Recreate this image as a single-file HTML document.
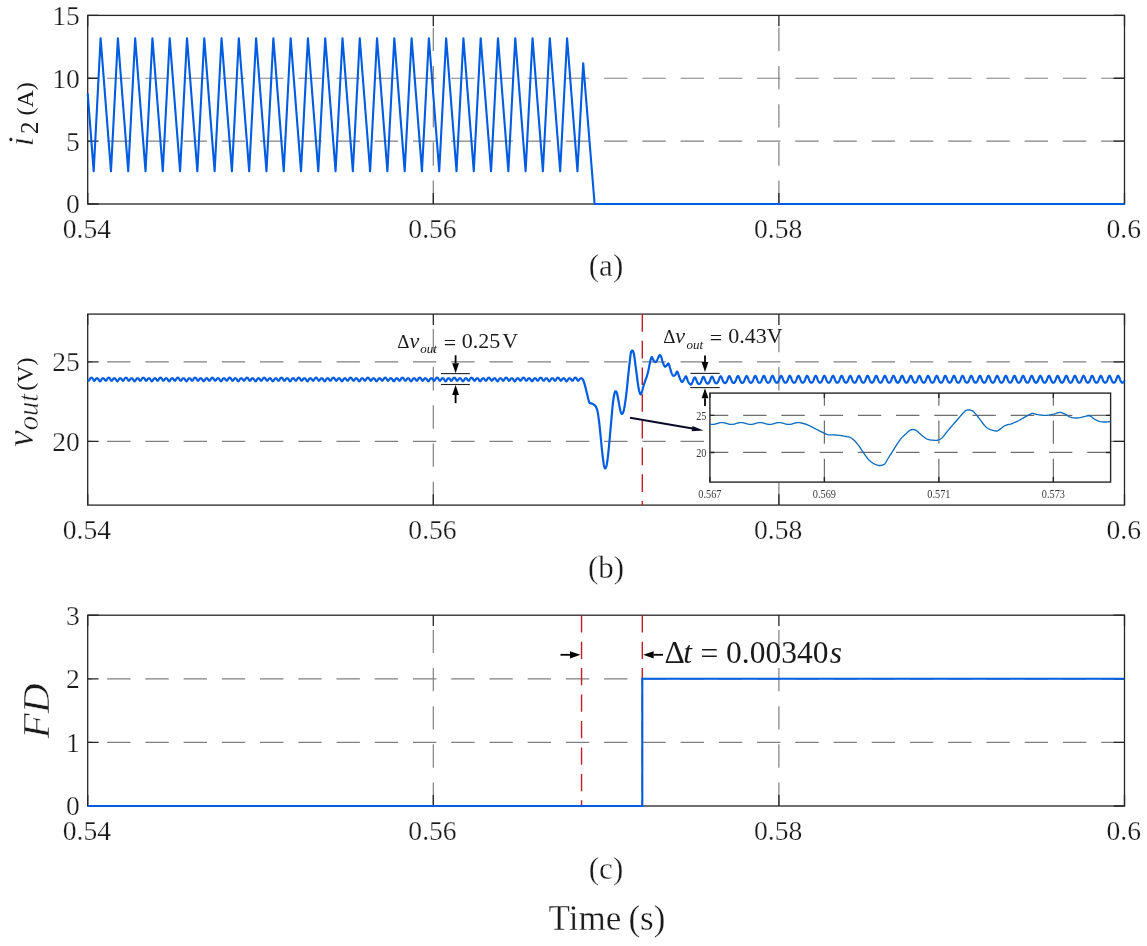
<!DOCTYPE html>
<html><head><meta charset="utf-8"><style>
html,body{margin:0;padding:0;background:#fff;width:1147px;height:946px;overflow:hidden}
svg{display:block;will-change:transform}
text{font-family:"Liberation Serif",serif;fill:#1a1a1a}
.tk{stroke:#fff;stroke-width:0.25px}
.cp{stroke:#fff;stroke-width:0.3px}
.yl{stroke:#fff;stroke-width:0.5px}
tspan[stroke=none]{stroke:none}
.il{fill:#3a3a3a}
</style></head><body>
<svg width="1147" height="946" viewBox="0 0 1147 946" font-family='"Liberation Serif", serif' fill="#000">
<rect width="1147" height="946" fill="#fff"/>
<line x1="1124.5" y1="141.13" x2="87.7" y2="141.13" stroke="#808080" stroke-width="1.2" stroke-dasharray="23.4 14.83"/>
<line x1="1124.5" y1="78.27" x2="87.7" y2="78.27" stroke="#808080" stroke-width="1.2" stroke-dasharray="23.4 14.83"/>
<line x1="433.3" y1="204" x2="433.3" y2="15.4" stroke="#808080" stroke-width="1.2" stroke-dasharray="23.4 14.83"/>
<line x1="778.9" y1="204" x2="778.9" y2="15.4" stroke="#808080" stroke-width="1.2" stroke-dasharray="23.4 14.83"/>
<rect x="87.7" y="15.4" width="1036.8" height="188.6" fill="none" stroke="#262626" stroke-width="1.3"/>
<path d="M87.7 204H98.6M1124.5 204H1113.6M87.7 141.13H98.6M1124.5 141.13H1113.6M87.7 78.27H98.6M1124.5 78.27H1113.6M87.7 15.4H98.6M1124.5 15.4H1113.6M87.7 204V193.1M87.7 15.4V26.3M433.3 204V193.1M433.3 15.4V26.3M778.9 204V193.1M778.9 15.4V26.3M1124.5 204V193.1M1124.5 15.4V26.3" stroke="#262626" stroke-width="1.3" fill="none"/>
<path d="M87.7 93.35 L93.7 171.31 L100.6 38.2 L110.98 171.31 L117.88 38.2 L128.25 171.31 L135.15 38.2 L145.53 171.31 L152.43 38.2 L162.81 171.31 L169.71 38.2 L180.09 171.31 L186.99 38.2 L197.36 171.31 L204.26 38.2 L214.64 171.31 L221.54 38.2 L231.92 171.31 L238.82 38.2 L249.19 171.31 L256.09 38.2 L266.47 171.31 L273.37 38.2 L283.75 171.31 L290.65 38.2 L301.02 171.31 L307.92 38.2 L318.3 171.31 L325.2 38.2 L335.58 171.31 L342.48 38.2 L352.86 171.31 L359.75 38.2 L370.13 171.31 L377.03 38.2 L387.41 171.31 L394.31 38.2 L404.69 171.31 L411.59 38.2 L421.96 171.31 L428.86 38.2 L439.24 171.31 L446.14 38.2 L456.52 171.31 L463.42 38.2 L473.79 171.31 L480.69 38.2 L491.07 171.31 L497.97 38.2 L508.35 171.31 L515.25 38.2 L525.62 171.31 L532.52 38.2 L542.9 171.31 L549.8 38.2 L560.18 171.31 L567.08 38.2 L577.46 171.31 L583.2 63.2 L594.6 204 L1124.5 204" fill="none" stroke="#005ce0" stroke-width="2.1" stroke-linejoin="round"/>
<text class="tk" x="79.9" y="213.4" text-anchor="end" font-size="27.6">0</text>
<text class="tk" x="79.9" y="150.53" text-anchor="end" font-size="27.6">5</text>
<text class="tk" x="79.9" y="87.67" text-anchor="end" font-size="27.6">10</text>
<text class="tk" x="79.9" y="24.8" text-anchor="end" font-size="27.6">15</text>
<text class="tk" x="86.9" y="237.6" text-anchor="middle" font-size="27.6">0.54</text>
<text class="tk" x="432.5" y="237.6" text-anchor="middle" font-size="27.6">0.56</text>
<text class="tk" x="778.1" y="237.6" text-anchor="middle" font-size="27.6">0.58</text>
<text class="tk" x="1123.7" y="237.6" text-anchor="middle" font-size="27.6">0.6</text>
<line x1="1124.5" y1="441.43" x2="87.7" y2="441.43" stroke="#808080" stroke-width="1.2" stroke-dasharray="23.4 14.83"/>
<line x1="1124.5" y1="361.85" x2="87.7" y2="361.85" stroke="#808080" stroke-width="1.2" stroke-dasharray="23.4 14.83"/>
<line x1="433.3" y1="505.1" x2="433.3" y2="314.1" stroke="#808080" stroke-width="1.2" stroke-dasharray="23.4 14.83"/>
<line x1="778.9" y1="505.1" x2="778.9" y2="314.1" stroke="#808080" stroke-width="1.2" stroke-dasharray="23.4 14.83"/>
<rect x="87.7" y="314.1" width="1036.8" height="191" fill="none" stroke="#262626" stroke-width="1.3"/>
<path d="M87.7 441.43H98.6M1124.5 441.43H1113.6M87.7 361.85H98.6M1124.5 361.85H1113.6M87.7 505.1V494.2M87.7 314.1V325M433.3 505.1V494.2M433.3 314.1V325M778.9 505.1V494.2M778.9 314.1V325M1124.5 505.1V494.2M1124.5 314.1V325" stroke="#262626" stroke-width="1.3" fill="none"/>
<line x1="642.3" y1="314.1" x2="642.3" y2="505.1" stroke="#c41e24" stroke-width="1.4" stroke-dasharray="17.6 9.1"/>
<path d="M87.7 380.15 L88.05 380.57 L88.4 380.77 L88.75 380.69 L89.1 380.33 L89.45 379.78 L89.8 379.17 L90.15 378.6 L90.5 378.16 L90.85 377.86 L91.2 377.72 L91.55 377.71 L91.9 377.84 L92.25 378.1 L92.6 378.53 L92.95 379.08 L93.3 379.7 L93.65 380.26 L94 380.65 L94.35 380.78 L94.7 380.61 L95.05 380.22 L95.4 379.69 L95.75 379.16 L96.1 378.71 L96.45 378.41 L96.8 378.25 L97.15 378.22 L97.5 378.32 L97.85 378.55 L98.2 378.92 L98.55 379.42 L98.9 380.02 L99.25 380.61 L99.6 381.07 L99.95 381.29 L100.3 381.22 L100.65 380.87 L101 380.33 L101.35 379.72 L101.7 379.16 L102.05 378.72 L102.4 378.42 L102.75 378.26 L103.1 378.22 L103.45 378.31 L103.8 378.54 L104.15 378.91 L104.5 379.41 L104.85 379.95 L105.2 380.43 L105.55 380.73 L105.9 380.75 L106.25 380.49 L106.6 380 L106.95 379.4 L107.3 378.8 L107.65 378.3 L108 377.95 L108.35 377.76 L108.7 377.7 L109.05 377.77 L109.4 377.99 L109.75 378.35 L110.1 378.86 L110.45 379.47 L110.8 380.07 L111.15 380.53 L111.5 380.76 L111.85 380.71 L112.2 380.39 L112.55 379.89 L112.9 379.35 L113.25 378.86 L113.6 378.5 L113.95 378.29 L114.3 378.22 L114.65 378.27 L115 378.45 L115.35 378.76 L115.7 379.22 L116.05 379.79 L116.4 380.4 L116.75 380.92 L117.1 381.24 L117.45 381.28 L117.8 381.03 L118.15 380.54 L118.5 379.95 L118.85 379.36 L119.2 378.87 L119.55 378.51 L119.9 378.3 L120.25 378.22 L120.6 378.26 L120.95 378.44 L121.3 378.76 L121.65 379.21 L122 379.75 L122.35 380.27 L122.7 380.65 L123.05 380.78 L123.4 380.62 L123.75 380.2 L124.1 379.63 L124.45 379.01 L124.8 378.47 L125.15 378.07 L125.5 377.81 L125.85 377.71 L126.2 377.73 L126.55 377.89 L126.9 378.2 L127.25 378.66 L127.6 379.24 L127.95 379.85 L128.3 380.38 L128.65 380.71 L129 380.76 L129.35 380.53 L129.7 380.09 L130.05 379.55 L130.4 379.03 L130.75 378.62 L131.1 378.35 L131.45 378.23 L131.8 378.24 L132.15 378.37 L132.5 378.63 L132.85 379.03 L133.2 379.57 L133.55 380.17 L133.9 380.74 L134.25 381.15 L134.6 381.3 L134.95 381.15 L135.3 380.74 L135.65 380.17 L136 379.57 L136.35 379.03 L136.7 378.63 L137.05 378.37 L137.4 378.24 L137.75 378.23 L138.1 378.35 L138.45 378.62 L138.8 379.03 L139.15 379.55 L139.5 380.09 L139.85 380.53 L140.2 380.76 L140.55 380.71 L140.9 380.38 L141.25 379.85 L141.6 379.24 L141.95 378.66 L142.3 378.2 L142.65 377.89 L143 377.73 L143.35 377.71 L143.7 377.81 L144.05 378.07 L144.4 378.47 L144.75 379.01 L145.1 379.63 L145.45 380.2 L145.8 380.62 L146.15 380.78 L146.5 380.65 L146.85 380.27 L147.2 379.75 L147.55 379.21 L147.9 378.76 L148.25 378.44 L148.6 378.26 L148.95 378.22 L149.3 378.3 L149.65 378.51 L150 378.87 L150.35 379.36 L150.7 379.95 L151.05 380.54 L151.4 381.03 L151.75 381.28 L152.1 381.24 L152.45 380.92 L152.8 380.4 L153.15 379.79 L153.5 379.22 L153.85 378.76 L154.2 378.45 L154.55 378.27 L154.9 378.22 L155.25 378.29 L155.6 378.5 L155.95 378.86 L156.3 379.35 L156.65 379.89 L157 380.39 L157.35 380.71 L157.7 380.76 L158.05 380.53 L158.4 380.07 L158.75 379.47 L159.1 378.86 L159.45 378.35 L159.8 377.99 L160.15 377.77 L160.5 377.7 L160.85 377.76 L161.2 377.95 L161.55 378.3 L161.9 378.8 L162.25 379.4 L162.6 380 L162.95 380.49 L163.3 380.75 L163.65 380.73 L164 380.43 L164.35 379.95 L164.7 379.41 L165.05 378.91 L165.4 378.54 L165.75 378.31 L166.1 378.22 L166.45 378.26 L166.8 378.42 L167.15 378.72 L167.5 379.16 L167.85 379.72 L168.2 380.33 L168.55 380.87 L168.9 381.22 L169.25 381.29 L169.6 381.07 L169.95 380.61 L170.3 380.02 L170.65 379.42 L171 378.92 L171.35 378.55 L171.7 378.32 L172.05 378.22 L172.4 378.25 L172.75 378.41 L173.1 378.71 L173.45 379.16 L173.8 379.69 L174.15 380.22 L174.5 380.61 L174.85 380.78 L175.2 380.65 L175.55 380.26 L175.9 379.7 L176.25 379.08 L176.6 378.53 L176.95 378.1 L177.3 377.84 L177.65 377.71 L178 377.72 L178.35 377.86 L178.7 378.16 L179.05 378.6 L179.4 379.17 L179.75 379.78 L180.1 380.33 L180.45 380.69 L180.8 380.77 L181.15 380.57 L181.5 380.15 L181.85 379.61 L182.2 379.09 L182.55 378.66 L182.9 378.38 L183.25 378.24 L183.6 378.23 L183.95 378.34 L184.3 378.59 L184.65 378.98 L185 379.5 L185.35 380.1 L185.7 380.68 L186.05 381.12 L186.4 381.3 L186.75 381.18 L187.1 380.8 L187.45 380.24 L187.8 379.64 L188.15 379.09 L188.5 378.67 L188.85 378.39 L189.2 378.25 L189.55 378.23 L189.9 378.33 L190.25 378.58 L190.6 378.98 L190.95 379.49 L191.3 380.03 L191.65 380.49 L192 380.75 L192.35 380.73 L192.7 380.43 L193.05 379.92 L193.4 379.31 L193.75 378.72 L194.1 378.24 L194.45 377.92 L194.8 377.74 L195.15 377.7 L195.5 377.79 L195.85 378.03 L196.2 378.42 L196.55 378.95 L196.9 379.56 L197.25 380.14 L197.6 380.58 L197.95 380.77 L198.3 380.68 L198.65 380.32 L199 379.82 L199.35 379.27 L199.7 378.8 L200.05 378.47 L200.4 378.27 L200.75 378.22 L201.1 378.29 L201.45 378.48 L201.8 378.82 L202.15 379.3 L202.5 379.88 L202.85 380.48 L203.2 380.98 L203.55 381.26 L203.9 381.26 L204.25 380.97 L204.6 380.46 L204.95 379.86 L205.3 379.28 L205.65 378.81 L206 378.47 L206.35 378.28 L206.7 378.22 L207.05 378.28 L207.4 378.47 L207.75 378.81 L208.1 379.29 L208.45 379.83 L208.8 380.34 L209.15 380.68 L209.5 380.77 L209.85 380.57 L210.2 380.13 L210.55 379.54 L210.9 378.93 L211.25 378.4 L211.6 378.02 L211.95 377.79 L212.3 377.7 L212.65 377.74 L213 377.92 L213.35 378.26 L213.7 378.74 L214.05 379.33 L214.4 379.94 L214.75 380.44 L215.1 380.74 L215.45 380.75 L215.8 380.48 L216.15 380.01 L216.5 379.47 L216.85 378.96 L217.2 378.57 L217.55 378.33 L217.9 378.22 L218.25 378.25 L218.6 378.39 L218.95 378.68 L219.3 379.1 L219.65 379.65 L220 380.26 L220.35 380.81 L220.7 381.19 L221.05 381.3 L221.4 381.11 L221.75 380.67 L222.1 380.09 L222.45 379.49 L222.8 378.97 L223.15 378.58 L223.5 378.34 L223.85 378.23 L224.2 378.24 L224.55 378.38 L224.9 378.67 L225.25 379.1 L225.6 379.63 L225.95 380.16 L226.3 380.58 L226.65 380.77 L227 380.68 L227.35 380.32 L227.7 379.77 L228.05 379.15 L228.4 378.59 L228.75 378.15 L229.1 377.86 L229.45 377.72 L229.8 377.71 L230.15 377.84 L230.5 378.11 L230.85 378.54 L231.2 379.1 L231.55 379.71 L231.9 380.27 L232.25 380.66 L232.6 380.78 L232.95 380.61 L233.3 380.2 L233.65 379.67 L234 379.14 L234.35 378.7 L234.7 378.4 L235.05 378.25 L235.4 378.22 L235.75 378.32 L236.1 378.55 L236.45 378.93 L236.8 379.44 L237.15 380.03 L237.5 380.62 L237.85 381.08 L238.2 381.29 L238.55 381.21 L238.9 380.85 L239.25 380.31 L239.6 379.7 L239.95 379.15 L240.3 378.71 L240.65 378.41 L241 378.26 L241.35 378.22 L241.7 378.31 L242.05 378.55 L242.4 378.93 L242.75 379.43 L243.1 379.97 L243.45 380.45 L243.8 380.73 L244.15 380.75 L244.5 380.48 L244.85 379.99 L245.2 379.38 L245.55 378.78 L245.9 378.29 L246.25 377.95 L246.6 377.75 L246.95 377.7 L247.3 377.78 L247.65 377.99 L248 378.37 L248.35 378.88 L248.7 379.49 L249.05 380.08 L249.4 380.54 L249.75 380.77 L250.1 380.7 L250.45 380.37 L250.8 379.88 L251.15 379.33 L251.5 378.85 L251.85 378.5 L252.2 378.29 L252.55 378.22 L252.9 378.27 L253.25 378.45 L253.6 378.77 L253.95 379.23 L254.3 379.81 L254.65 380.41 L255 380.93 L255.35 381.25 L255.7 381.28 L256.05 381.01 L256.4 380.53 L256.75 379.93 L257.1 379.34 L257.45 378.85 L257.8 378.51 L258.15 378.3 L258.5 378.22 L258.85 378.26 L259.2 378.44 L259.55 378.77 L259.9 379.23 L260.25 379.77 L260.6 380.28 L260.95 380.65 L261.3 380.78 L261.65 380.61 L262 380.19 L262.35 379.61 L262.7 379 L263.05 378.46 L263.4 378.06 L263.75 377.81 L264.1 377.71 L264.45 377.73 L264.8 377.9 L265.15 378.21 L265.5 378.67 L265.85 379.26 L266.2 379.87 L266.55 380.39 L266.9 380.72 L267.25 380.76 L267.6 380.52 L267.95 380.07 L268.3 379.53 L268.65 379.02 L269 378.61 L269.35 378.35 L269.7 378.23 L270.05 378.24 L270.4 378.37 L270.75 378.64 L271.1 379.05 L271.45 379.59 L271.8 380.19 L272.15 380.76 L272.5 381.16 L272.85 381.3 L273.2 381.14 L273.55 380.73 L273.9 380.16 L274.25 379.55 L274.6 379.02 L274.95 378.62 L275.3 378.36 L275.65 378.24 L276 378.23 L276.35 378.36 L276.7 378.63 L277.05 379.04 L277.4 379.56 L277.75 380.1 L278.1 380.54 L278.45 380.76 L278.8 380.71 L279.15 380.37 L279.5 379.84 L279.85 379.22 L280.2 378.64 L280.55 378.19 L280.9 377.88 L281.25 377.73 L281.6 377.71 L281.95 377.82 L282.3 378.08 L282.65 378.49 L283 379.03 L283.35 379.64 L283.7 380.22 L284.05 380.63 L284.4 380.78 L284.75 380.64 L285.1 380.26 L285.45 379.74 L285.8 379.2 L286.15 378.75 L286.5 378.43 L286.85 378.26 L287.2 378.22 L287.55 378.31 L287.9 378.52 L288.25 378.88 L288.6 379.37 L288.95 379.96 L289.3 380.56 L289.65 381.04 L290 381.28 L290.35 381.23 L290.7 380.91 L291.05 380.38 L291.4 379.77 L291.75 379.2 L292.1 378.75 L292.45 378.44 L292.8 378.27 L293.15 378.22 L293.5 378.3 L293.85 378.51 L294.2 378.88 L294.55 379.36 L294.9 379.91 L295.25 380.4 L295.6 380.71 L295.95 380.76 L296.3 380.52 L296.65 380.05 L297 379.45 L297.35 378.85 L297.7 378.34 L298.05 377.98 L298.4 377.77 L298.75 377.7 L299.1 377.76 L299.45 377.96 L299.8 378.32 L300.15 378.82 L300.5 379.41 L300.85 380.02 L301.2 380.5 L301.55 380.76 L301.9 380.72 L302.25 380.42 L302.6 379.94 L302.95 379.39 L303.3 378.9 L303.65 378.53 L304 378.31 L304.35 378.22 L304.7 378.26 L305.05 378.43 L305.4 378.73 L305.75 379.18 L306.1 379.74 L306.45 380.35 L306.8 380.88 L307.15 381.22 L307.5 381.29 L307.85 381.06 L308.2 380.59 L308.55 380 L308.9 379.41 L309.25 378.9 L309.6 378.54 L309.95 378.32 L310.3 378.22 L310.65 378.25 L311 378.42 L311.35 378.72 L311.7 379.17 L312.05 379.71 L312.4 380.23 L312.75 380.62 L313.1 380.78 L313.45 380.64 L313.8 380.25 L314.15 379.68 L314.5 379.06 L314.85 378.51 L315.2 378.09 L315.55 377.83 L315.9 377.71 L316.25 377.72 L316.6 377.87 L316.95 378.17 L317.3 378.61 L317.65 379.19 L318 379.8 L318.35 380.34 L318.7 380.69 L319.05 380.77 L319.4 380.56 L319.75 380.13 L320.1 379.6 L320.45 379.07 L320.8 378.65 L321.15 378.37 L321.5 378.24 L321.85 378.23 L322.2 378.35 L322.55 378.6 L322.9 378.99 L323.25 379.52 L323.6 380.12 L323.95 380.7 L324.3 381.13 L324.65 381.3 L325 381.18 L325.35 380.79 L325.7 380.23 L326.05 379.62 L326.4 379.07 L326.75 378.66 L327.1 378.38 L327.45 378.24 L327.8 378.23 L328.15 378.34 L328.5 378.59 L328.85 378.99 L329.2 379.5 L329.55 380.04 L329.9 380.5 L330.25 380.75 L330.6 380.73 L330.95 380.42 L331.3 379.9 L331.65 379.29 L332 378.71 L332.35 378.23 L332.7 377.91 L333.05 377.74 L333.4 377.7 L333.75 377.8 L334.1 378.04 L334.45 378.43 L334.8 378.96 L335.15 379.57 L335.5 380.16 L335.85 380.59 L336.2 380.78 L336.55 380.67 L336.9 380.31 L337.25 379.8 L337.6 379.26 L337.95 378.79 L338.3 378.46 L338.65 378.27 L339 378.22 L339.35 378.29 L339.7 378.49 L340.05 378.83 L340.4 379.31 L340.75 379.9 L341.1 380.5 L341.45 380.99 L341.8 381.27 L342.15 381.26 L342.5 380.96 L342.85 380.45 L343.2 379.84 L343.55 379.26 L343.9 378.79 L344.25 378.47 L344.6 378.28 L344.95 378.22 L345.3 378.28 L345.65 378.48 L346 378.83 L346.35 379.3 L346.7 379.85 L347.05 380.35 L347.4 380.69 L347.75 380.77 L348.1 380.56 L348.45 380.11 L348.8 379.52 L349.15 378.91 L349.5 378.39 L349.85 378.01 L350.2 377.79 L350.55 377.7 L350.9 377.75 L351.25 377.93 L351.6 378.27 L351.95 378.75 L352.3 379.34 L352.65 379.95 L353 380.46 L353.35 380.74 L353.7 380.74 L354.05 380.47 L354.4 380 L354.75 379.46 L355.1 378.95 L355.45 378.56 L355.8 378.32 L356.15 378.22 L356.5 378.25 L356.85 378.4 L357.2 378.69 L357.55 379.12 L357.9 379.67 L358.25 380.28 L358.6 380.83 L358.95 381.2 L359.3 381.3 L359.65 381.1 L360 380.65 L360.35 380.07 L360.7 379.47 L361.05 378.95 L361.4 378.57 L361.75 378.33 L362.1 378.23 L362.45 378.24 L362.8 378.39 L363.15 378.68 L363.5 379.11 L363.85 379.64 L364.2 380.18 L364.55 380.59 L364.9 380.77 L365.25 380.67 L365.6 380.3 L365.95 379.75 L366.3 379.13 L366.65 378.57 L367 378.13 L367.35 377.85 L367.7 377.72 L368.05 377.72 L368.4 377.85 L368.75 378.12 L369.1 378.56 L369.45 379.12 L369.8 379.73 L370.15 380.29 L370.5 380.67 L370.85 380.78 L371.2 380.6 L371.55 380.19 L371.9 379.66 L372.25 379.13 L372.6 378.69 L372.95 378.4 L373.3 378.25 L373.65 378.23 L374 378.33 L374.35 378.56 L374.7 378.94 L375.05 379.45 L375.4 380.05 L375.75 380.64 L376.1 381.09 L376.45 381.29 L376.8 381.2 L377.15 380.84 L377.5 380.29 L377.85 379.69 L378.2 379.13 L378.55 378.7 L378.9 378.41 L379.25 378.25 L379.6 378.22 L379.95 378.32 L380.3 378.56 L380.65 378.94 L381 379.44 L381.35 379.98 L381.7 380.46 L382.05 380.74 L382.4 380.74 L382.75 380.47 L383.1 379.97 L383.45 379.36 L383.8 378.77 L384.15 378.28 L384.5 377.94 L384.85 377.75 L385.2 377.7 L385.55 377.78 L385.9 378 L386.25 378.38 L386.6 378.9 L386.95 379.5 L387.3 380.1 L387.65 380.55 L388 380.77 L388.35 380.7 L388.7 380.36 L389.05 379.86 L389.4 379.32 L389.75 378.84 L390.1 378.49 L390.45 378.29 L390.8 378.22 L391.15 378.28 L391.5 378.46 L391.85 378.78 L392.2 379.25 L392.55 379.83 L392.9 380.43 L393.25 380.94 L393.6 381.25 L393.95 381.27 L394.3 381 L394.65 380.51 L395 379.91 L395.35 379.33 L395.7 378.84 L396.05 378.5 L396.4 378.29 L396.75 378.22 L397.1 378.27 L397.45 378.45 L397.8 378.78 L398.15 379.24 L398.5 379.78 L398.85 380.3 L399.2 380.66 L399.55 380.78 L399.9 380.6 L400.25 380.17 L400.6 379.59 L400.95 378.98 L401.3 378.44 L401.65 378.05 L402 377.8 L402.35 377.7 L402.7 377.74 L403.05 377.9 L403.4 378.22 L403.75 378.69 L404.1 379.27 L404.45 379.89 L404.8 380.41 L405.15 380.72 L405.5 380.76 L405.85 380.51 L406.2 380.06 L406.55 379.52 L406.9 379 L407.25 378.6 L407.6 378.34 L407.95 378.23 L408.3 378.24 L408.65 378.38 L409 378.65 L409.35 379.06 L409.7 379.6 L410.05 380.21 L410.4 380.77 L410.75 381.17 L411.1 381.3 L411.45 381.13 L411.8 380.71 L412.15 380.14 L412.5 379.54 L412.85 379.01 L413.2 378.61 L413.55 378.35 L413.9 378.23 L414.25 378.24 L414.6 378.37 L414.95 378.64 L415.3 379.06 L415.65 379.58 L416 380.12 L416.35 380.55 L416.7 380.77 L417.05 380.7 L417.4 380.36 L417.75 379.82 L418.1 379.2 L418.45 378.63 L418.8 378.18 L419.15 377.88 L419.5 377.73 L419.85 377.71 L420.2 377.82 L420.55 378.08 L420.9 378.5 L421.25 379.05 L421.6 379.66 L421.95 380.23 L422.3 380.64 L422.65 380.78 L423 380.63 L423.35 380.24 L423.7 379.72 L424.05 379.19 L424.4 378.73 L424.75 378.42 L425.1 378.26 L425.45 378.22 L425.8 378.31 L426.15 378.53 L426.5 378.89 L426.85 379.39 L427.2 379.98 L427.55 380.58 L427.9 381.05 L428.25 381.28 L428.6 381.23 L428.95 380.89 L429.3 380.36 L429.65 379.76 L430 379.19 L430.35 378.74 L430.7 378.43 L431.05 378.26 L431.4 378.22 L431.75 378.3 L432.1 378.52 L432.45 378.89 L432.8 379.38 L433.15 379.92 L433.5 380.41 L433.85 380.72 L434.2 380.76 L434.55 380.51 L434.9 380.03 L435.25 379.43 L435.6 378.83 L435.95 378.33 L436.3 377.97 L436.65 377.77 L437 377.7 L437.35 377.77 L437.7 377.97 L438.05 378.33 L438.4 378.83 L438.75 379.43 L439.1 380.03 L439.45 380.51 L439.8 380.76 L440.15 380.72 L440.5 380.41 L440.85 379.92 L441.2 379.38 L441.55 378.89 L441.9 378.52 L442.25 378.3 L442.6 378.22 L442.95 378.26 L443.3 378.43 L443.65 378.74 L444 379.19 L444.35 379.76 L444.7 380.36 L445.05 380.89 L445.4 381.23 L445.75 381.28 L446.1 381.05 L446.45 380.58 L446.8 379.98 L447.15 379.39 L447.5 378.89 L447.85 378.53 L448.2 378.31 L448.55 378.22 L448.9 378.26 L449.25 378.42 L449.6 378.73 L449.95 379.19 L450.3 379.72 L450.65 380.24 L451 380.63 L451.35 380.78 L451.7 380.64 L452.05 380.23 L452.4 379.66 L452.75 379.05 L453.1 378.5 L453.45 378.08 L453.8 377.82 L454.15 377.71 L454.5 377.73 L454.85 377.88 L455.2 378.18 L455.55 378.63 L455.9 379.2 L456.25 379.82 L456.6 380.36 L456.95 380.7 L457.3 380.77 L457.65 380.55 L458 380.12 L458.35 379.58 L458.7 379.06 L459.05 378.64 L459.4 378.37 L459.75 378.24 L460.1 378.23 L460.45 378.35 L460.8 378.61 L461.15 379.01 L461.5 379.54 L461.85 380.14 L462.2 380.71 L462.55 381.13 L462.9 381.3 L463.25 381.17 L463.6 380.77 L463.95 380.21 L464.3 379.6 L464.65 379.06 L465 378.65 L465.35 378.38 L465.7 378.24 L466.05 378.23 L466.4 378.34 L466.75 378.6 L467.1 379 L467.45 379.52 L467.8 380.06 L468.15 380.51 L468.5 380.76 L468.85 380.72 L469.2 380.41 L469.55 379.89 L469.9 379.27 L470.25 378.69 L470.6 378.22 L470.95 377.9 L471.3 377.74 L471.65 377.7 L472 377.8 L472.35 378.05 L472.7 378.44 L473.05 378.98 L473.4 379.59 L473.75 380.17 L474.1 380.6 L474.45 380.78 L474.8 380.66 L475.15 380.3 L475.5 379.78 L475.85 379.24 L476.2 378.78 L476.55 378.45 L476.9 378.27 L477.25 378.22 L477.6 378.29 L477.95 378.5 L478.3 378.84 L478.65 379.33 L479 379.91 L479.35 380.51 L479.7 381 L480.05 381.27 L480.4 381.25 L480.75 380.94 L481.1 380.43 L481.45 379.83 L481.8 379.25 L482.15 378.78 L482.5 378.46 L482.85 378.28 L483.2 378.22 L483.55 378.29 L483.9 378.49 L484.25 378.84 L484.6 379.32 L484.95 379.86 L485.3 380.36 L485.65 380.7 L486 380.77 L486.35 380.55 L486.7 380.1 L487.05 379.5 L487.4 378.9 L487.75 378.38 L488.1 378 L488.45 377.78 L488.8 377.7 L489.15 377.75 L489.5 377.94 L489.85 378.28 L490.2 378.77 L490.55 379.36 L490.9 379.97 L491.25 380.47 L491.6 380.74 L491.95 380.74 L492.3 380.46 L492.65 379.98 L493 379.44 L493.35 378.94 L493.7 378.56 L494.05 378.32 L494.4 378.22 L494.75 378.25 L495.1 378.41 L495.45 378.7 L495.8 379.13 L496.15 379.69 L496.5 380.29 L496.85 380.84 L497.2 381.2 L497.55 381.29 L497.9 381.09 L498.25 380.64 L498.6 380.05 L498.95 379.45 L499.3 378.94 L499.65 378.56 L500 378.33 L500.35 378.23 L500.7 378.25 L501.05 378.4 L501.4 378.69 L501.75 379.13 L502.1 379.66 L502.45 380.19 L502.8 380.6 L503.15 380.78 L503.5 380.67 L503.85 380.29 L504.2 379.73 L504.55 379.12 L504.9 378.56 L505.25 378.12 L505.6 377.85 L505.95 377.72 L506.3 377.72 L506.65 377.85 L507 378.13 L507.35 378.57 L507.7 379.13 L508.05 379.75 L508.4 380.3 L508.75 380.67 L509.1 380.77 L509.45 380.59 L509.8 380.18 L510.15 379.64 L510.5 379.11 L510.85 378.68 L511.2 378.39 L511.55 378.24 L511.9 378.23 L512.25 378.33 L512.6 378.57 L512.95 378.95 L513.3 379.47 L513.65 380.07 L514 380.65 L514.35 381.1 L514.7 381.3 L515.05 381.2 L515.4 380.83 L515.75 380.28 L516.1 379.67 L516.45 379.12 L516.8 378.69 L517.15 378.4 L517.5 378.25 L517.85 378.22 L518.2 378.32 L518.55 378.56 L518.9 378.95 L519.25 379.46 L519.6 380 L519.95 380.47 L520.3 380.74 L520.65 380.74 L521 380.46 L521.35 379.95 L521.7 379.34 L522.05 378.75 L522.4 378.27 L522.75 377.93 L523.1 377.75 L523.45 377.7 L523.8 377.79 L524.15 378.01 L524.5 378.39 L524.85 378.91 L525.2 379.52 L525.55 380.11 L525.9 380.56 L526.25 380.77 L526.6 380.69 L526.95 380.35 L527.3 379.85 L527.65 379.3 L528 378.83 L528.35 378.48 L528.7 378.28 L529.05 378.22 L529.4 378.28 L529.75 378.47 L530.1 378.79 L530.45 379.26 L530.8 379.84 L531.15 380.45 L531.5 380.96 L531.85 381.26 L532.2 381.27 L532.55 380.99 L532.9 380.5 L533.25 379.9 L533.6 379.31 L533.95 378.83 L534.3 378.49 L534.65 378.29 L535 378.22 L535.35 378.27 L535.7 378.46 L536.05 378.79 L536.4 379.26 L536.75 379.8 L537.1 380.31 L537.45 380.67 L537.8 380.77 L538.15 380.59 L538.5 380.16 L538.85 379.57 L539.2 378.96 L539.55 378.43 L539.9 378.04 L540.25 377.8 L540.6 377.7 L540.95 377.74 L541.3 377.91 L541.65 378.23 L542 378.71 L542.35 379.29 L542.7 379.9 L543.05 380.42 L543.4 380.73 L543.75 380.75 L544.1 380.5 L544.45 380.04 L544.8 379.5 L545.15 378.99 L545.5 378.59 L545.85 378.34 L546.2 378.23 L546.55 378.24 L546.9 378.38 L547.25 378.66 L547.6 379.07 L547.95 379.62 L548.3 380.23 L548.65 380.79 L549 381.18 L549.35 381.3 L549.7 381.13 L550.05 380.7 L550.4 380.12 L550.75 379.52 L551.1 378.99 L551.45 378.6 L551.8 378.35 L552.15 378.23 L552.5 378.24 L552.85 378.37 L553.2 378.65 L553.55 379.07 L553.9 379.6 L554.25 380.13 L554.6 380.56 L554.95 380.77 L555.3 380.69 L555.65 380.34 L556 379.8 L556.35 379.19 L556.7 378.61 L557.05 378.17 L557.4 377.87 L557.75 377.72 L558.1 377.71 L558.45 377.83 L558.8 378.09 L559.15 378.51 L559.5 379.06 L559.85 379.68 L560.2 380.25 L560.55 380.64 L560.9 380.78 L561.25 380.62 L561.6 380.23 L561.95 379.71 L562.3 379.17 L562.65 378.72 L563 378.42 L563.35 378.25 L563.7 378.22 L564.05 378.32 L564.4 378.54 L564.75 378.9 L565.1 379.41 L565.45 380 L565.8 380.59 L566.15 381.06 L566.5 381.29 L566.85 381.22 L567.2 380.88 L567.55 380.35 L567.9 379.74 L568.25 379.18 L568.6 378.73 L568.95 378.43 L569.3 378.26 L569.65 378.22 L570 378.31 L570.35 378.53 L570.7 378.9 L571.05 379.39 L571.4 379.94 L571.75 380.42 L572.1 380.72 L572.45 380.76 L572.8 380.5 L573.15 380.02 L573.5 379.41 L573.85 378.82 L574.2 378.32 L574.55 377.96 L574.9 377.76 L575.25 377.7 L575.6 377.77 L575.95 377.98 L576.3 378.34 L576.65 378.85 L577 379.45 L577.35 380.05 L577.7 380.52 L578.05 380.76 L578.4 380.71 L578.75 380.4 L579.1 379.91 L579.45 379.36 L579.8 378.88 L581 378.3 L581.19 378.35 L581.45 378.36 L581.76 378.41 L582.1 378.54 L582.46 378.82 L582.8 379.3 L583.14 380.02 L583.51 380.92 L583.88 381.98 L584.26 383.13 L584.63 384.36 L585 385.6 L585.36 386.91 L585.71 388.33 L586.06 389.82 L586.41 391.32 L586.76 392.8 L587.1 394.2 L587.45 395.6 L587.8 397.04 L588.16 398.45 L588.5 399.76 L588.81 400.9 L589.1 401.8 L589.35 402.4 L589.56 402.77 L589.74 402.96 L589.92 403.04 L590.1 403.1 L590.3 403.2 L590.5 403.31 L590.7 403.36 L590.91 403.38 L591.12 403.4 L591.35 403.43 L591.6 403.5 L591.88 403.61 L592.19 403.73 L592.51 403.87 L592.84 404.03 L593.18 404.2 L593.5 404.4 L593.82 404.62 L594.16 404.85 L594.49 405.1 L594.81 405.37 L595.12 405.67 L595.4 406 L595.65 406.34 L595.89 406.7 L596.1 407.09 L596.3 407.51 L596.5 407.97 L596.7 408.5 L596.89 409.03 L597.07 409.56 L597.24 410.13 L597.42 410.81 L597.6 411.64 L597.8 412.7 L598.01 413.98 L598.24 415.45 L598.47 417.07 L598.71 418.84 L598.96 420.72 L599.2 422.7 L599.45 424.82 L599.7 427.12 L599.95 429.53 L600.2 432 L600.45 434.48 L600.7 436.9 L600.94 439.31 L601.17 441.77 L601.41 444.22 L601.64 446.64 L601.87 448.98 L602.1 451.2 L602.34 453.35 L602.59 455.47 L602.83 457.52 L603.07 459.43 L603.3 461.14 L603.5 462.6 L603.68 463.77 L603.84 464.7 L603.99 465.43 L604.13 466.01 L604.26 466.52 L604.4 467 L604.54 467.44 L604.67 467.79 L604.8 468.06 L604.93 468.25 L605.06 468.36 L605.2 468.4 L605.34 468.36 L605.49 468.25 L605.64 468.06 L605.79 467.79 L605.94 467.44 L606.1 467 L606.26 466.52 L606.41 466.01 L606.57 465.43 L606.73 464.7 L606.91 463.77 L607.1 462.6 L607.3 461.24 L607.51 459.74 L607.73 458.05 L607.97 456.1 L608.22 453.84 L608.5 451.2 L608.81 448.08 L609.14 444.5 L609.5 440.6 L609.87 436.53 L610.24 432.41 L610.6 428.4 L610.97 424.3 L611.34 419.96 L611.72 415.57 L612.09 411.36 L612.46 407.5 L612.8 404.2 L613.13 401.47 L613.45 399.15 L613.76 397.19 L614.05 395.55 L614.33 394.17 L614.6 393 L614.85 392.12 L615.08 391.59 L615.29 391.32 L615.5 391.23 L615.7 391.25 L615.9 391.3 L616.1 391.41 L616.29 391.66 L616.48 392.02 L616.66 392.45 L616.84 392.92 L617 393.4 L617.14 393.82 L617.24 394.2 L617.34 394.62 L617.45 395.17 L617.59 395.93 L617.8 397 L618.09 398.53 L618.44 400.49 L618.83 402.66 L619.23 404.84 L619.59 406.83 L619.9 408.4 L620.14 409.55 L620.34 410.44 L620.52 411.12 L620.68 411.67 L620.83 412.15 L621 412.6 L621.17 413.03 L621.34 413.38 L621.51 413.65 L621.67 413.84 L621.83 413.96 L622 414 L622.16 413.96 L622.33 413.84 L622.49 413.65 L622.65 413.38 L622.82 413.03 L623 412.6 L623.18 412.18 L623.35 411.78 L623.53 411.3 L623.73 410.64 L623.95 409.71 L624.2 408.4 L624.5 406.7 L624.83 404.67 L625.19 402.37 L625.56 399.84 L625.93 397.1 L626.3 394.2 L626.66 391.01 L627.03 387.48 L627.4 383.75 L627.77 379.96 L628.14 376.26 L628.5 372.8 L628.87 369.41 L629.25 365.94 L629.63 362.56 L629.99 359.44 L630.32 356.73 L630.6 354.6 L630.82 353.17 L630.99 352.33 L631.13 351.91 L631.25 351.73 L631.37 351.62 L631.5 351.4 L631.64 351.11 L631.77 350.9 L631.91 350.75 L632.04 350.66 L632.17 350.61 L632.3 350.6 L632.43 350.6 L632.56 350.62 L632.68 350.68 L632.81 350.81 L632.95 351.05 L633.1 351.4 L633.25 351.78 L633.41 352.15 L633.57 352.62 L633.75 353.29 L633.96 354.28 L634.2 355.7 L634.49 357.66 L634.83 360.09 L635.19 362.84 L635.56 365.75 L635.94 368.66 L636.3 371.4 L636.66 374.12 L637.03 376.97 L637.39 379.82 L637.75 382.53 L638.09 384.97 L638.4 387 L638.68 388.58 L638.93 389.82 L639.16 390.78 L639.38 391.55 L639.59 392.2 L639.8 392.8 L640 393.35 L640.19 393.78 L640.37 394.09 L640.54 394.28 L640.72 394.35 L640.9 394.3 L641.08 394.1 L641.26 393.75 L641.44 393.28 L641.63 392.72 L641.81 392.11 L642 391.5 L642.19 390.86 L642.37 390.17 L642.56 389.43 L642.75 388.65 L642.96 387.84 L643.2 387 L643.47 386.11 L643.76 385.16 L644.06 384.17 L644.38 383.18 L644.69 382.21 L645 381.3 L645.3 380.47 L645.6 379.7 L645.91 378.95 L646.21 378.19 L646.51 377.39 L646.8 376.5 L647.09 375.54 L647.37 374.55 L647.65 373.51 L647.93 372.41 L648.21 371.25 L648.5 370 L648.8 368.59 L649.11 367 L649.42 365.34 L649.73 363.72 L650.02 362.24 L650.3 361 L650.56 359.97 L650.8 359.06 L651.03 358.29 L651.26 357.68 L651.48 357.24 L651.7 357 L651.91 357.01 L652.11 357.28 L652.3 357.72 L652.5 358.26 L652.73 358.81 L653 359.3 L653.32 359.8 L653.68 360.4 L654.07 361.01 L654.46 361.57 L654.85 361.99 L655.2 362.2 L655.52 362.19 L655.82 362.01 L656.11 361.7 L656.4 361.29 L656.69 360.81 L657 360.3 L657.33 359.68 L657.69 358.91 L658.05 358.08 L658.4 357.26 L658.72 356.54 L659 356 L659.22 355.63 L659.4 355.38 L659.55 355.22 L659.69 355.14 L659.83 355.14 L660 355.2 L660.18 355.3 L660.36 355.45 L660.55 355.67 L660.75 355.99 L660.96 356.43 L661.2 357 L661.46 357.78 L661.75 358.78 L662.05 359.89 L662.36 361.02 L662.68 362.09 L663 363 L663.32 363.8 L663.66 364.56 L664 365.26 L664.34 365.85 L664.68 366.31 L665 366.6 L665.31 366.67 L665.62 366.54 L665.92 366.28 L666.21 365.94 L666.51 365.6 L666.8 365.3 L667.09 364.96 L667.37 364.5 L667.65 364.03 L667.93 363.66 L668.21 363.48 L668.5 363.6 L668.8 364.09 L669.1 364.89 L669.4 365.88 L669.7 366.97 L670 368.04 L670.3 369 L670.59 369.89 L670.88 370.81 L671.16 371.73 L671.44 372.59 L671.72 373.36 L672 374 L672.27 374.52 L672.53 374.95 L672.79 375.29 L673.05 375.54 L673.32 375.71 L673.6 375.8 L673.9 375.79 L674.21 375.69 L674.54 375.5 L674.86 375.24 L675.19 374.94 L675.5 374.6 L675.8 374.1 L676.09 373.4 L676.38 372.66 L676.67 372.01 L676.98 371.61 L677.3 371.6 L677.64 372.08 L678 372.96 L678.36 374.08 L678.74 375.31 L679.12 376.49 L679.5 377.5 L679.89 378.41 L680.3 379.36 L680.71 380.27 L681.11 381.07 L681.52 381.67 L681.9 382 L682.27 382 L682.63 381.71 L682.97 381.23 L683.32 380.64 L683.66 380.04 L684 379.5 L684.34 378.91 L684.67 378.17 L685.01 377.42 L685.34 376.77 L685.67 376.36 L686 376.3 L686.33 376.71 L686.66 377.5 L686.99 378.53 L687.33 379.64 L687.66 380.68 L688 381.5 L688.37 382.13 L688.77 382.69 L689.17 383.18 L689.55 383.59 L689.87 383.94 L690.1 384.2 L690.6 384.63 L690.95 384.5 L691.3 384.24 L691.65 383.84 L692 383.27 L692.35 382.54 L692.7 381.66 L693.05 380.69 L693.4 379.7 L693.75 378.78 L694.1 378.04 L694.45 377.57 L694.8 377.41 L695.15 377.59 L695.5 378.08 L695.85 378.82 L696.2 379.71 L696.55 380.65 L696.9 381.56 L697.25 382.36 L697.6 383 L697.95 383.48 L698.3 383.79 L698.65 383.97 L699 384.03 L699.35 383.98 L699.7 383.81 L700.05 383.52 L700.4 383.08 L700.75 382.47 L701.1 381.7 L701.45 380.79 L701.8 379.81 L702.15 378.84 L702.5 377.98 L702.85 377.32 L703.2 376.95 L703.55 376.91 L703.9 377.2 L704.25 377.79 L704.6 378.59 L704.95 379.52 L705.3 380.47 L705.65 381.35 L706 382.11 L706.35 382.71 L706.7 383.14 L707.05 383.42 L707.4 383.56 L707.75 383.59 L708.1 383.51 L708.45 383.32 L708.8 382.99 L709.15 382.5 L709.5 381.85 L709.85 381.04 L710.2 380.1 L710.55 379.12 L710.9 378.18 L711.25 377.38 L711.6 376.81 L711.95 376.55 L712.3 376.62 L712.65 377.01 L713 377.68 L713.35 378.54 L713.7 379.49 L714.05 380.43 L714.4 381.29 L714.75 382.01 L715.1 382.56 L715.45 382.94 L715.8 383.18 L716.15 383.29 L716.5 383.29 L716.85 383.18 L717.2 382.95 L717.55 382.58 L717.9 382.05 L718.25 381.34 L718.6 380.49 L718.95 379.54 L719.3 378.56 L719.65 377.66 L720 376.93 L720.35 376.45 L720.7 376.3 L721.05 376.48 L721.4 376.97 L721.75 377.71 L722.1 378.61 L722.45 379.57 L722.8 380.5 L723.15 381.32 L723.5 381.99 L723.85 382.49 L724.2 382.83 L724.55 383.03 L724.9 383.1 L725.25 383.08 L725.6 382.93 L725.95 382.66 L726.3 382.25 L726.65 381.66 L727 380.91 L727.35 380.02 L727.7 379.06 L728.05 378.1 L728.4 377.24 L728.75 376.58 L729.1 376.21 L729.45 376.16 L729.8 376.44 L730.15 377.02 L730.5 377.83 L730.85 378.76 L731.2 379.72 L731.55 380.63 L731.9 381.4 L732.25 382.02 L732.6 382.47 L732.95 382.77 L733.3 382.93 L733.65 382.97 L734 382.91 L734.35 382.74 L734.7 382.42 L735.05 381.96 L735.4 381.32 L735.75 380.52 L736.1 379.61 L736.45 378.63 L736.8 377.7 L737.15 376.89 L737.5 376.32 L737.85 376.04 L738.2 376.1 L738.55 376.49 L738.9 377.15 L739.25 378.01 L739.6 378.96 L739.95 379.92 L740.3 380.79 L740.65 381.52 L741 382.09 L741.35 382.49 L741.7 382.74 L742.05 382.86 L742.4 382.88 L742.75 382.78 L743.1 382.57 L743.45 382.21 L743.8 381.69 L744.15 381 L744.5 380.17 L744.85 379.22 L745.2 378.25 L745.55 377.35 L745.9 376.61 L746.25 376.12 L746.6 375.95 L746.95 376.12 L747.3 376.6 L747.65 377.33 L748 378.23 L748.35 379.2 L748.7 380.14 L749.05 380.97 L749.4 381.65 L749.75 382.17 L750.1 382.52 L750.45 382.73 L750.8 382.82 L751.15 382.8 L751.5 382.67 L751.85 382.41 L752.2 382.01 L752.55 381.44 L752.9 380.7 L753.25 379.82 L753.6 378.86 L753.95 377.9 L754.3 377.04 L754.65 376.37 L755 375.98 L755.35 375.92 L755.7 376.19 L756.05 376.76 L756.4 377.56 L756.75 378.49 L757.1 379.46 L757.45 380.37 L757.8 381.16 L758.15 381.79 L758.5 382.25 L758.85 382.56 L759.2 382.73 L759.55 382.78 L759.9 382.73 L760.25 382.57 L760.6 382.26 L760.95 381.81 L761.3 381.18 L761.65 380.4 L762 379.49 L762.35 378.52 L762.7 377.58 L763.05 376.77 L763.4 376.18 L763.75 375.89 L764.1 375.94 L764.45 376.31 L764.8 376.96 L765.15 377.81 L765.5 378.76 L765.85 379.72 L766.2 380.6 L766.55 381.34 L766.9 381.92 L767.25 382.33 L767.6 382.6 L767.95 382.73 L768.3 382.75 L768.65 382.67 L769 382.46 L769.35 382.11 L769.7 381.6 L770.05 380.93 L770.4 380.1 L770.75 379.17 L771.1 378.2 L771.45 377.29 L771.8 376.54 L772.15 376.04 L772.5 375.85 L772.85 376 L773.2 376.46 L773.55 377.19 L773.9 378.08 L774.25 379.05 L774.6 379.99 L774.95 380.83 L775.3 381.52 L775.65 382.05 L776 382.41 L776.35 382.63 L776.7 382.73 L777.05 382.72 L777.4 382.6 L777.75 382.35 L778.1 381.95 L778.45 381.39 L778.8 380.67 L779.15 379.8 L779.5 378.84 L779.85 377.88 L780.2 377.01 L780.55 376.33 L780.9 375.93 L781.25 375.84 L781.6 376.1 L781.95 376.65 L782.3 377.44 L782.65 378.37 L783 379.34 L783.35 380.25 L783.7 381.05 L784.05 381.69 L784.4 382.17 L784.75 382.48 L785.1 382.66 L785.45 382.73 L785.8 382.68 L786.15 382.52 L786.5 382.23 L786.85 381.78 L787.2 381.17 L787.55 380.4 L787.9 379.49 L788.25 378.53 L788.6 377.58 L788.95 376.76 L789.3 376.16 L789.65 375.85 L790 375.88 L790.35 376.23 L790.7 376.87 L791.05 377.71 L791.4 378.66 L791.75 379.62 L792.1 380.51 L792.45 381.26 L792.8 381.85 L793.15 382.27 L793.5 382.54 L793.85 382.69 L794.2 382.71 L794.55 382.64 L794.9 382.44 L795.25 382.1 L795.6 381.6 L795.95 380.94 L796.3 380.12 L796.65 379.18 L797 378.22 L797.35 377.3 L797.7 376.54 L798.05 376.02 L798.4 375.82 L798.75 375.95 L799.1 376.4 L799.45 377.11 L799.8 378 L800.15 378.96 L800.5 379.91 L800.85 380.76 L801.2 381.46 L801.55 382 L801.9 382.37 L802.25 382.6 L802.6 382.7 L802.95 382.7 L803.3 382.58 L803.65 382.34 L804 381.95 L804.35 381.4 L804.7 380.69 L805.05 379.83 L805.4 378.88 L805.75 377.91 L806.1 377.03 L806.45 376.34 L806.8 375.92 L807.15 375.82 L807.5 376.05 L807.85 376.59 L808.2 377.37 L808.55 378.29 L808.9 379.26 L809.25 380.18 L809.6 380.99 L809.95 381.64 L810.3 382.13 L810.65 382.45 L811 382.64 L811.35 382.71 L811.7 382.67 L812.05 382.52 L812.4 382.23 L812.75 381.8 L813.1 381.19 L813.45 380.43 L813.8 379.53 L814.15 378.57 L814.5 377.62 L814.85 376.79 L815.2 376.17 L815.55 375.85 L815.9 375.85 L816.25 376.19 L816.6 376.81 L816.95 377.64 L817.3 378.59 L817.65 379.56 L818 380.45 L818.35 381.21 L818.7 381.81 L819.05 382.24 L819.4 382.52 L819.75 382.67 L820.1 382.7 L820.45 382.63 L820.8 382.44 L821.15 382.11 L821.5 381.62 L821.85 380.97 L822.2 380.15 L822.55 379.23 L822.9 378.26 L823.25 377.34 L823.6 376.57 L823.95 376.03 L824.3 375.81 L824.65 375.92 L825 376.35 L825.35 377.05 L825.7 377.93 L826.05 378.9 L826.4 379.85 L826.75 380.7 L827.1 381.42 L827.45 381.96 L827.8 382.34 L828.15 382.58 L828.5 382.69 L828.85 382.69 L829.2 382.58 L829.55 382.35 L829.9 381.97 L830.25 381.43 L830.6 380.73 L830.95 379.87 L831.3 378.92 L831.65 377.96 L832 377.07 L832.35 376.37 L832.7 375.93 L833.05 375.81 L833.4 376.02 L833.75 376.55 L834.1 377.31 L834.45 378.23 L834.8 379.2 L835.15 380.13 L835.5 380.94 L835.85 381.6 L836.2 382.1 L836.55 382.43 L836.9 382.62 L837.25 382.7 L837.6 382.67 L837.95 382.52 L838.3 382.25 L838.65 381.82 L839 381.23 L839.35 380.47 L839.7 379.58 L840.05 378.62 L840.4 377.67 L840.75 376.83 L841.1 376.2 L841.45 375.85 L841.8 375.84 L842.15 376.15 L842.5 376.76 L842.85 377.59 L843.2 378.53 L843.55 379.5 L843.9 380.4 L844.25 381.17 L844.6 381.78 L844.95 382.22 L845.3 382.5 L845.65 382.66 L846 382.7 L846.35 382.63 L846.7 382.45 L847.05 382.13 L847.4 381.65 L847.75 381.01 L848.1 380.2 L848.45 379.28 L848.8 378.31 L849.15 377.38 L849.5 376.6 L849.85 376.05 L850.2 375.81 L850.55 375.9 L850.9 376.32 L851.25 377 L851.6 377.88 L851.95 378.84 L852.3 379.79 L852.65 380.66 L853 381.38 L853.35 381.93 L853.7 382.32 L854.05 382.57 L854.4 382.68 L854.75 382.69 L855.1 382.59 L855.45 382.36 L855.8 382 L856.15 381.47 L856.5 380.77 L856.85 379.92 L857.2 378.98 L857.55 378.01 L857.9 377.12 L858.25 376.4 L858.6 375.94 L858.95 375.8 L859.3 376 L859.65 376.51 L860 377.26 L860.35 378.17 L860.7 379.14 L861.05 380.08 L861.4 380.9 L861.75 381.57 L862.1 382.07 L862.45 382.41 L862.8 382.61 L863.15 382.7 L863.5 382.67 L863.85 382.53 L864.2 382.27 L864.55 381.85 L864.9 381.26 L865.25 380.52 L865.6 379.63 L865.95 378.67 L866.3 377.72 L866.65 376.87 L867 376.22 L867.35 375.86 L867.7 375.83 L868.05 376.13 L868.4 376.72 L868.75 377.54 L869.1 378.48 L869.45 379.44 L869.8 380.35 L870.15 381.13 L870.5 381.74 L870.85 382.19 L871.2 382.49 L871.55 382.65 L871.9 382.7 L872.25 382.64 L872.6 382.46 L872.95 382.15 L873.3 381.68 L873.65 381.05 L874 380.25 L874.35 379.33 L874.7 378.37 L875.05 377.43 L875.4 376.64 L875.75 376.08 L876.1 375.81 L876.45 375.89 L876.8 376.28 L877.15 376.96 L877.5 377.82 L877.85 378.78 L878.2 379.74 L878.55 380.61 L878.9 381.34 L879.25 381.9 L879.6 382.3 L879.95 382.55 L880.3 382.68 L880.65 382.69 L881 382.6 L881.35 382.38 L881.7 382.02 L882.05 381.5 L882.4 380.81 L882.75 379.97 L883.1 379.03 L883.45 378.06 L883.8 377.16 L884.15 376.43 L884.5 375.96 L884.85 375.8 L885.2 375.98 L885.55 376.47 L885.9 377.21 L886.25 378.12 L886.6 379.09 L886.95 380.02 L887.3 380.85 L887.65 381.53 L888 382.05 L888.35 382.4 L888.7 382.61 L889.05 382.69 L889.4 382.67 L889.75 382.54 L890.1 382.28 L890.45 381.88 L890.8 381.3 L891.15 380.56 L891.5 379.68 L891.85 378.73 L892.2 377.77 L892.55 376.91 L892.9 376.25 L893.25 375.87 L893.6 375.82 L893.95 376.1 L894.3 376.68 L894.65 377.48 L895 378.42 L895.35 379.39 L895.7 380.3 L896.05 381.09 L896.4 381.71 L896.75 382.17 L897.1 382.48 L897.45 382.65 L897.8 382.7 L898.15 382.65 L898.5 382.48 L898.85 382.17 L899.2 381.71 L899.55 381.09 L899.9 380.3 L900.25 379.39 L900.6 378.42 L900.95 377.48 L901.3 376.68 L901.65 376.1 L902 375.82 L902.35 375.87 L902.7 376.25 L903.05 376.91 L903.4 377.77 L903.75 378.73 L904.1 379.68 L904.45 380.56 L904.8 381.3 L905.15 381.88 L905.5 382.28 L905.85 382.54 L906.2 382.67 L906.55 382.69 L906.9 382.61 L907.25 382.4 L907.6 382.05 L907.95 381.53 L908.3 380.85 L908.65 380.02 L909 379.09 L909.35 378.12 L909.7 377.21 L910.05 376.47 L910.4 375.98 L910.75 375.8 L911.1 375.96 L911.45 376.43 L911.8 377.16 L912.15 378.06 L912.5 379.03 L912.85 379.97 L913.2 380.81 L913.55 381.5 L913.9 382.02 L914.25 382.38 L914.6 382.6 L914.95 382.69 L915.3 382.68 L915.65 382.55 L916 382.3 L916.35 381.9 L916.7 381.34 L917.05 380.61 L917.4 379.74 L917.75 378.78 L918.1 377.82 L918.45 376.96 L918.8 376.28 L919.15 375.89 L919.5 375.81 L919.85 376.08 L920.2 376.64 L920.55 377.43 L920.9 378.37 L921.25 379.33 L921.6 380.25 L921.95 381.04 L922.3 381.68 L922.65 382.15 L923 382.46 L923.35 382.64 L923.7 382.7 L924.05 382.65 L924.4 382.49 L924.75 382.19 L925.1 381.74 L925.45 381.13 L925.8 380.35 L926.15 379.44 L926.5 378.48 L926.85 377.53 L927.2 376.72 L927.55 376.13 L927.9 375.83 L928.25 375.86 L928.6 376.22 L928.95 376.87 L929.3 377.72 L929.65 378.67 L930 379.63 L930.35 380.51 L930.7 381.26 L931.05 381.85 L931.4 382.26 L931.75 382.53 L932.1 382.67 L932.45 382.7 L932.8 382.61 L933.15 382.41 L933.5 382.07 L933.85 381.57 L934.2 380.9 L934.55 380.07 L934.9 379.14 L935.25 378.17 L935.6 377.26 L935.95 376.51 L936.3 376 L936.65 375.8 L937 375.94 L937.35 376.4 L937.7 377.12 L938.05 378.01 L938.4 378.98 L938.75 379.92 L939.1 380.77 L939.45 381.46 L939.8 382 L940.15 382.36 L940.5 382.59 L940.85 382.69 L941.2 382.68 L941.55 382.56 L941.9 382.32 L942.25 381.93 L942.6 381.38 L942.95 380.65 L943.3 379.79 L943.65 378.84 L944 377.88 L944.35 377 L944.7 376.32 L945.05 375.9 L945.4 375.81 L945.75 376.05 L946.1 376.6 L946.45 377.38 L946.8 378.31 L947.15 379.28 L947.5 380.2 L947.85 381 L948.2 381.65 L948.55 382.13 L948.9 382.45 L949.25 382.63 L949.6 382.7 L949.95 382.66 L950.3 382.5 L950.65 382.21 L951 381.77 L951.35 381.17 L951.7 380.4 L952.05 379.5 L952.4 378.53 L952.75 377.59 L953.1 376.76 L953.45 376.15 L953.8 375.84 L954.15 375.85 L954.5 376.19 L954.85 376.82 L955.2 377.66 L955.55 378.61 L955.9 379.58 L956.25 380.47 L956.6 381.22 L956.95 381.82 L957.3 382.25 L957.65 382.52 L958 382.67 L958.35 382.7 L958.7 382.62 L959.05 382.43 L959.4 382.09 L959.75 381.6 L960.1 380.94 L960.45 380.12 L960.8 379.2 L961.15 378.23 L961.5 377.31 L961.85 376.54 L962.2 376.02 L962.55 375.8 L962.9 375.92 L963.25 376.36 L963.6 377.07 L963.95 377.96 L964.3 378.92 L964.65 379.87 L965 380.72 L965.35 381.43 L965.7 381.97 L966.05 382.35 L966.4 382.58 L966.75 382.69 L967.1 382.69 L967.45 382.57 L967.8 382.34 L968.15 381.96 L968.5 381.41 L968.85 380.7 L969.2 379.84 L969.55 378.89 L969.9 377.93 L970.25 377.05 L970.6 376.35 L970.95 375.92 L971.3 375.81 L971.65 376.03 L972 376.56 L972.35 377.33 L972.7 378.25 L973.05 379.22 L973.4 380.15 L973.75 380.96 L974.1 381.62 L974.45 382.11 L974.8 382.43 L975.15 382.63 L975.5 382.7 L975.85 382.66 L976.2 382.51 L976.55 382.24 L976.9 381.8 L977.25 381.21 L977.6 380.44 L977.95 379.55 L978.3 378.59 L978.65 377.64 L979 376.8 L979.35 376.18 L979.7 375.84 L980.05 375.84 L980.4 376.17 L980.75 376.78 L981.1 377.61 L981.45 378.56 L981.8 379.52 L982.15 380.42 L982.5 381.19 L982.85 381.79 L983.2 382.22 L983.55 382.51 L983.9 382.66 L984.25 382.7 L984.6 382.63 L984.95 382.44 L985.3 382.12 L985.65 381.63 L986 380.98 L986.35 380.18 L986.7 379.25 L987.05 378.28 L987.4 377.36 L987.75 376.58 L988.1 376.04 L988.45 375.81 L988.8 375.91 L989.15 376.33 L989.5 377.02 L989.85 377.9 L990.2 378.86 L990.55 379.82 L990.9 380.68 L991.25 381.39 L991.6 381.94 L991.95 382.33 L992.3 382.57 L992.65 382.68 L993 382.69 L993.35 382.58 L993.7 382.36 L994.05 381.98 L994.4 381.45 L994.75 380.74 L995.1 379.89 L995.45 378.95 L995.8 377.98 L996.15 377.09 L996.5 376.38 L996.85 375.93 L997.2 375.8 L997.55 376.01 L997.9 376.52 L998.25 377.28 L998.6 378.2 L998.95 379.17 L999.3 380.1 L999.65 380.92 L1000 381.58 L1000.35 382.08 L1000.7 382.42 L1001.05 382.62 L1001.4 382.7 L1001.75 382.67 L1002.1 382.53 L1002.45 382.25 L1002.8 381.83 L1003.15 381.24 L1003.5 380.49 L1003.85 379.6 L1004.2 378.64 L1004.55 377.69 L1004.9 376.85 L1005.25 376.21 L1005.6 375.86 L1005.95 375.83 L1006.3 376.14 L1006.65 376.74 L1007 377.56 L1007.35 378.5 L1007.7 379.47 L1008.05 380.37 L1008.4 381.15 L1008.75 381.76 L1009.1 382.2 L1009.45 382.5 L1009.8 382.65 L1010.15 382.7 L1010.5 382.64 L1010.85 382.46 L1011.2 382.14 L1011.55 381.67 L1011.9 381.02 L1012.25 380.22 L1012.6 379.31 L1012.95 378.34 L1013.3 377.41 L1013.65 376.62 L1014 376.06 L1014.35 375.81 L1014.7 375.89 L1015.05 376.3 L1015.4 376.98 L1015.75 377.85 L1016.1 378.81 L1016.45 379.76 L1016.8 380.63 L1017.15 381.36 L1017.5 381.92 L1017.85 382.31 L1018.2 382.56 L1018.55 382.68 L1018.9 382.69 L1019.25 382.59 L1019.6 382.37 L1019.95 382.01 L1020.3 381.48 L1020.65 380.79 L1021 379.95 L1021.35 379 L1021.7 378.04 L1022.05 377.14 L1022.4 376.42 L1022.75 375.95 L1023.1 375.8 L1023.45 375.99 L1023.8 376.49 L1024.15 377.24 L1024.5 378.15 L1024.85 379.11 L1025.2 380.05 L1025.55 380.88 L1025.9 381.55 L1026.25 382.06 L1026.6 382.4 L1026.95 382.61 L1027.3 382.7 L1027.65 382.67 L1028 382.54 L1028.35 382.27 L1028.7 381.86 L1029.05 381.28 L1029.4 380.54 L1029.75 379.66 L1030.1 378.7 L1030.45 377.74 L1030.8 376.89 L1031.15 376.24 L1031.5 375.87 L1031.85 375.82 L1032.2 376.11 L1032.55 376.7 L1032.9 377.51 L1033.25 378.45 L1033.6 379.42 L1033.95 380.32 L1034.3 381.11 L1034.65 381.73 L1035 382.18 L1035.35 382.48 L1035.7 382.65 L1036.05 382.7 L1036.4 382.64 L1036.75 382.47 L1037.1 382.16 L1037.45 381.7 L1037.8 381.07 L1038.15 380.27 L1038.5 379.36 L1038.85 378.39 L1039.2 377.46 L1039.55 376.66 L1039.9 376.09 L1040.25 375.82 L1040.6 375.88 L1040.95 376.27 L1041.3 376.93 L1041.65 377.8 L1042 378.75 L1042.35 379.71 L1042.7 380.58 L1043.05 381.32 L1043.4 381.89 L1043.75 382.29 L1044.1 382.55 L1044.45 382.68 L1044.8 382.69 L1045.15 382.6 L1045.5 382.39 L1045.85 382.03 L1046.2 381.52 L1046.55 380.83 L1046.9 380 L1047.25 379.06 L1047.6 378.09 L1047.95 377.19 L1048.3 376.45 L1048.65 375.97 L1049 375.8 L1049.35 375.97 L1049.7 376.45 L1050.05 377.19 L1050.4 378.09 L1050.75 379.06 L1051.1 380 L1051.45 380.83 L1051.8 381.52 L1052.15 382.03 L1052.5 382.39 L1052.85 382.6 L1053.2 382.69 L1053.55 382.68 L1053.9 382.55 L1054.25 382.29 L1054.6 381.89 L1054.95 381.32 L1055.3 380.58 L1055.65 379.71 L1056 378.75 L1056.35 377.8 L1056.7 376.93 L1057.05 376.27 L1057.4 375.88 L1057.75 375.82 L1058.1 376.09 L1058.45 376.66 L1058.8 377.46 L1059.15 378.39 L1059.5 379.36 L1059.85 380.27 L1060.2 381.07 L1060.55 381.7 L1060.9 382.16 L1061.25 382.47 L1061.6 382.64 L1061.95 382.7 L1062.3 382.65 L1062.65 382.48 L1063 382.18 L1063.35 381.73 L1063.7 381.11 L1064.05 380.32 L1064.4 379.42 L1064.75 378.45 L1065.1 377.51 L1065.45 376.7 L1065.8 376.11 L1066.15 375.82 L1066.5 375.87 L1066.85 376.24 L1067.2 376.89 L1067.55 377.74 L1067.9 378.7 L1068.25 379.66 L1068.6 380.54 L1068.95 381.28 L1069.3 381.86 L1069.65 382.27 L1070 382.54 L1070.35 382.67 L1070.7 382.7 L1071.05 382.61 L1071.4 382.4 L1071.75 382.06 L1072.1 381.55 L1072.45 380.88 L1072.8 380.05 L1073.15 379.11 L1073.5 378.15 L1073.85 377.24 L1074.2 376.49 L1074.55 375.99 L1074.9 375.8 L1075.25 375.95 L1075.6 376.42 L1075.95 377.14 L1076.3 378.04 L1076.65 379 L1077 379.95 L1077.35 380.79 L1077.7 381.48 L1078.05 382.01 L1078.4 382.37 L1078.75 382.59 L1079.1 382.69 L1079.45 382.68 L1079.8 382.56 L1080.15 382.31 L1080.5 381.92 L1080.85 381.36 L1081.2 380.63 L1081.55 379.76 L1081.9 378.81 L1082.25 377.85 L1082.6 376.98 L1082.95 376.3 L1083.3 375.89 L1083.65 375.81 L1084 376.06 L1084.35 376.62 L1084.7 377.41 L1085.05 378.34 L1085.4 379.31 L1085.75 380.22 L1086.1 381.02 L1086.45 381.67 L1086.8 382.14 L1087.15 382.46 L1087.5 382.64 L1087.85 382.7 L1088.2 382.65 L1088.55 382.5 L1088.9 382.2 L1089.25 381.76 L1089.6 381.15 L1089.95 380.37 L1090.3 379.47 L1090.65 378.5 L1091 377.56 L1091.35 376.74 L1091.7 376.14 L1092.05 375.83 L1092.4 375.86 L1092.75 376.21 L1093.1 376.85 L1093.45 377.69 L1093.8 378.64 L1094.15 379.6 L1094.5 380.49 L1094.85 381.24 L1095.2 381.83 L1095.55 382.25 L1095.9 382.53 L1096.25 382.67 L1096.6 382.7 L1096.95 382.62 L1097.3 382.42 L1097.65 382.08 L1098 381.58 L1098.35 380.92 L1098.7 380.1 L1099.05 379.17 L1099.4 378.2 L1099.75 377.28 L1100.1 376.52 L1100.45 376.01 L1100.8 375.8 L1101.15 375.93 L1101.5 376.38 L1101.85 377.09 L1102.2 377.98 L1102.55 378.95 L1102.9 379.89 L1103.25 380.74 L1103.6 381.45 L1103.95 381.98 L1104.3 382.36 L1104.65 382.58 L1105 382.69 L1105.35 382.68 L1105.7 382.57 L1106.05 382.33 L1106.4 381.94 L1106.75 381.39 L1107.1 380.68 L1107.45 379.82 L1107.8 378.86 L1108.15 377.9 L1108.5 377.02 L1108.85 376.33 L1109.2 375.91 L1109.55 375.81 L1109.9 376.04 L1110.25 376.58 L1110.6 377.36 L1110.95 378.28 L1111.3 379.25 L1111.65 380.18 L1112 380.98 L1112.35 381.63 L1112.7 382.12 L1113.05 382.44 L1113.4 382.63 L1113.75 382.7 L1114.1 382.66 L1114.45 382.51 L1114.8 382.22 L1115.15 381.79 L1115.5 381.19 L1115.85 380.42 L1116.2 379.52 L1116.55 378.56 L1116.9 377.61 L1117.25 376.78 L1117.6 376.17 L1117.95 375.84 L1118.3 375.84 L1118.65 376.18 L1119 376.8 L1119.35 377.64 L1119.7 378.59 L1120.05 379.55 L1120.4 380.44 L1120.75 381.21 L1121.1 381.8 L1121.45 382.24 L1121.8 382.51 L1122.15 382.66 L1122.5 382.7 L1122.85 382.63 L1123.2 382.43 L1123.55 382.11 L1123.9 381.62 L1124.25 380.96 L1124.5 380.4" fill="none" stroke="#005ce0" stroke-width="2.2" stroke-linejoin="round"/>
<text class="tk" x="79.9" y="450.83" text-anchor="end" font-size="27.6">20</text>
<text class="tk" x="79.9" y="371.25" text-anchor="end" font-size="27.6">25</text>
<text class="tk" x="86.9" y="538.7" text-anchor="middle" font-size="27.6">0.54</text>
<text class="tk" x="432.5" y="538.7" text-anchor="middle" font-size="27.6">0.56</text>
<text class="tk" x="778.1" y="538.7" text-anchor="middle" font-size="27.6">0.58</text>
<text class="tk" x="1123.7" y="538.7" text-anchor="middle" font-size="27.6">0.6</text>
<line x1="1124.5" y1="742.4" x2="87.7" y2="742.4" stroke="#808080" stroke-width="1.2" stroke-dasharray="23.4 14.83"/>
<line x1="1124.5" y1="678.8" x2="87.7" y2="678.8" stroke="#808080" stroke-width="1.2" stroke-dasharray="23.4 14.83"/>
<line x1="433.3" y1="806" x2="433.3" y2="615.2" stroke="#808080" stroke-width="1.2" stroke-dasharray="23.4 14.83"/>
<line x1="778.9" y1="806" x2="778.9" y2="615.2" stroke="#808080" stroke-width="1.2" stroke-dasharray="23.4 14.83"/>
<rect x="87.7" y="615.2" width="1036.8" height="190.8" fill="none" stroke="#262626" stroke-width="1.3"/>
<path d="M87.7 806H98.6M1124.5 806H1113.6M87.7 742.4H98.6M1124.5 742.4H1113.6M87.7 678.8H98.6M1124.5 678.8H1113.6M87.7 615.2H98.6M1124.5 615.2H1113.6M87.7 806V795.1M87.7 615.2V626.1M433.3 806V795.1M433.3 615.2V626.1M778.9 806V795.1M778.9 615.2V626.1M1124.5 806V795.1M1124.5 615.2V626.1" stroke="#262626" stroke-width="1.3" fill="none"/>
<line x1="581.55" y1="615.2" x2="581.55" y2="806" stroke="#c41e24" stroke-width="1.4" stroke-dasharray="17.25 9.2"/>
<line x1="642.3" y1="615.2" x2="642.3" y2="806" stroke="#c41e24" stroke-width="1.4" stroke-dasharray="17.25 9.2"/>
<path d="M87.7 806 L642.3 806 L642.3 678.8 L1124.5 678.8" fill="none" stroke="#005ce0" stroke-width="2.1"/>
<text class="tk" x="79.9" y="815.4" text-anchor="end" font-size="27.6">0</text>
<text class="tk" x="79.9" y="751.8" text-anchor="end" font-size="27.6">1</text>
<text class="tk" x="79.9" y="688.2" text-anchor="end" font-size="27.6">2</text>
<text class="tk" x="79.9" y="624.6" text-anchor="end" font-size="27.6">3</text>
<text class="tk" x="86.9" y="839.6" text-anchor="middle" font-size="27.6">0.54</text>
<text class="tk" x="432.5" y="839.6" text-anchor="middle" font-size="27.6">0.56</text>
<text class="tk" x="778.1" y="839.6" text-anchor="middle" font-size="27.6">0.58</text>
<text class="tk" x="1123.7" y="839.6" text-anchor="middle" font-size="27.6">0.6</text>
<rect x="709.9" y="393.1" width="400.7" height="89" fill="#fff"/>
<line x1="1110.6" y1="452.43" x2="709.9" y2="452.43" stroke="#6e6e6e" stroke-width="1.2" stroke-dasharray="23.4 14.83"/>
<line x1="1110.6" y1="415.35" x2="709.9" y2="415.35" stroke="#6e6e6e" stroke-width="1.2" stroke-dasharray="23.4 14.83"/>
<line x1="824.39" y1="482.1" x2="824.39" y2="393.1" stroke="#6e6e6e" stroke-width="1.2" stroke-dasharray="23.4 14.83"/>
<line x1="938.87" y1="482.1" x2="938.87" y2="393.1" stroke="#6e6e6e" stroke-width="1.2" stroke-dasharray="23.4 14.83"/>
<line x1="1053.36" y1="482.1" x2="1053.36" y2="393.1" stroke="#6e6e6e" stroke-width="1.2" stroke-dasharray="23.4 14.83"/>
<rect x="709.9" y="393.1" width="400.7" height="89" fill="none" stroke="#262626" stroke-width="1.4"/>
<path d="M709.9 452.43H714.4M1110.6 452.43H1106.1M709.9 415.35H714.4M1110.6 415.35H1106.1M709.9 482.1V477.1M709.9 393.1V398.1M824.39 482.1V477.1M824.39 393.1V398.1M938.87 482.1V477.1M938.87 393.1V398.1M1053.36 482.1V477.1M1053.36 393.1V398.1" stroke="#262626" stroke-width="1.4" fill="none"/>
<path d="M709.9 424.14 L710.4 424.24 L710.9 424.33 L711.4 424.39 L711.9 424.44 L712.4 424.45 L712.9 424.44 L713.4 424.4 L713.9 424.34 L714.4 424.26 L714.9 424.15 L715.4 424.03 L715.9 423.9 L716.4 423.75 L716.9 423.6 L717.4 423.44 L717.9 423.29 L718.4 423.14 L718.9 423 L719.4 422.87 L719.9 422.76 L720.4 422.68 L720.9 422.61 L721.4 422.57 L721.9 422.55 L722.4 422.56 L722.9 422.59 L723.4 422.65 L723.9 422.73 L724.4 422.84 L724.9 422.96 L725.4 423.09 L725.9 423.24 L726.4 423.39 L726.9 423.55 L727.4 423.7 L727.9 423.85 L728.4 423.99 L728.9 424.12 L729.4 424.23 L729.9 424.32 L730.4 424.39 L730.9 424.43 L731.4 424.45 L731.9 424.44 L732.4 424.41 L732.9 424.35 L733.4 424.27 L733.9 424.17 L734.4 424.05 L734.9 423.92 L735.4 423.77 L735.9 423.62 L736.4 423.47 L736.9 423.31 L737.4 423.16 L737.9 423.02 L738.4 422.89 L738.9 422.78 L739.4 422.69 L739.9 422.62 L740.4 422.57 L740.9 422.55 L741.4 422.56 L741.9 422.59 L742.4 422.64 L742.9 422.72 L743.4 422.82 L743.9 422.94 L744.4 423.07 L744.9 423.21 L745.4 423.37 L745.9 423.52 L746.4 423.68 L746.9 423.83 L747.4 423.97 L747.9 424.1 L748.4 424.21 L748.9 424.3 L749.4 424.38 L749.9 424.42 L750.4 424.45 L750.9 424.45 L751.4 424.42 L751.9 424.36 L752.4 424.29 L752.9 424.19 L753.4 424.07 L753.9 423.94 L754.4 423.8 L754.9 423.65 L755.4 423.49 L755.9 423.34 L756.4 423.18 L756.9 423.04 L757.4 422.91 L757.9 422.8 L758.4 422.7 L758.9 422.63 L759.4 422.58 L759.9 422.55 L760.4 422.55 L760.9 422.58 L761.4 422.63 L761.9 422.71 L762.4 422.8 L762.9 422.92 L763.4 423.05 L763.9 423.19 L764.4 423.34 L764.9 423.5 L765.4 423.65 L765.9 423.8 L766.4 423.95 L766.9 424.08 L767.4 424.19 L767.9 424.29 L768.4 424.37 L768.9 424.42 L769.4 424.45 L769.9 424.45 L770.4 424.42 L770.9 424.37 L771.4 424.3 L771.9 424.21 L772.4 424.09 L772.9 423.96 L773.4 423.82 L773.9 423.67 L774.4 423.52 L774.9 423.36 L775.4 423.21 L775.9 423.06 L776.4 422.93 L776.9 422.81 L777.4 422.72 L777.9 422.64 L778.4 422.58 L778.9 422.56 L779.4 422.55 L779.9 422.57 L780.4 422.62 L780.9 422.69 L781.4 422.78 L781.9 422.9 L782.4 423.03 L782.9 423.17 L783.4 423.32 L783.9 423.47 L784.4 423.63 L784.9 423.78 L785.4 423.93 L785.9 424.06 L786.4 424.18 L786.9 424.28 L787.4 424.36 L787.9 424.41 L788.4 424.44 L788.9 424.45 L789.4 424.43 L789.9 424.38 L790.4 424.31 L790.9 424.22 L791.4 424.11 L791.9 423.99 L792.4 423.85 L792.9 423.7 L793.4 423.54 L793.9 423.38 L794.4 423.23 L794.9 423.09 L795.4 422.95 L795.9 422.83 L796.4 422.73 L796.9 422.65 L797.4 422.59 L797.9 422.56 L798.4 422.55 L798.9 422.57 L800 422.7 L800.6 422.83 L801.43 423.01 L802.41 423.22 L803.46 423.47 L804.48 423.73 L805.4 424 L806.22 424.29 L807.02 424.61 L807.8 424.96 L808.56 425.31 L809.29 425.66 L810 426 L810.66 426.33 L811.27 426.64 L811.86 426.96 L812.46 427.29 L813.09 427.63 L813.8 428 L814.58 428.39 L815.4 428.81 L816.26 429.24 L817.16 429.68 L818.07 430.14 L819 430.6 L819.99 431.1 L821.04 431.64 L822.12 432.19 L823.18 432.72 L824.15 433.2 L825 433.6 L825.68 433.92 L826.21 434.17 L826.67 434.38 L827.12 434.55 L827.61 434.68 L828.2 434.8 L828.89 434.88 L829.63 434.9 L830.42 434.9 L831.24 434.89 L832.11 434.88 L833 434.9 L833.94 434.94 L834.94 434.99 L835.98 435.04 L837.03 435.11 L838.08 435.2 L839.1 435.3 L840.1 435.43 L841.11 435.59 L842.11 435.76 L843.1 435.94 L844.07 436.12 L845 436.3 L845.92 436.47 L846.84 436.63 L847.74 436.79 L848.59 436.96 L849.39 437.16 L850.1 437.4 L850.71 437.68 L851.24 437.99 L851.71 438.32 L852.14 438.67 L852.56 439.03 L853 439.4 L853.43 439.74 L853.82 440.05 L854.21 440.37 L854.61 440.74 L855.07 441.2 L855.6 441.8 L856.22 442.54 L856.92 443.4 L857.66 444.36 L858.44 445.37 L859.22 446.43 L860 447.5 L860.78 448.62 L861.59 449.83 L862.41 451.07 L863.23 452.31 L864.03 453.5 L864.8 454.6 L865.53 455.62 L866.22 456.59 L866.89 457.51 L867.57 458.39 L868.27 459.22 L869 460 L869.79 460.74 L870.61 461.44 L871.46 462.09 L872.3 462.69 L873.12 463.22 L873.9 463.7 L874.65 464.1 L875.39 464.44 L876.11 464.72 L876.8 464.95 L877.43 465.14 L878 465.3 L878.49 465.42 L878.9 465.5 L879.27 465.53 L879.61 465.54 L879.94 465.52 L880.3 465.5 L880.67 465.47 L881.03 465.41 L881.39 465.34 L881.76 465.25 L882.12 465.14 L882.5 465 L882.87 464.89 L883.22 464.83 L883.58 464.74 L883.97 464.56 L884.4 464.24 L884.9 463.7 L885.47 462.91 L886.11 461.91 L886.79 460.76 L887.5 459.52 L888.24 458.25 L889 457 L889.79 455.73 L890.64 454.4 L891.51 453.03 L892.37 451.66 L893.21 450.34 L894 449.1 L894.73 447.94 L895.43 446.82 L896.1 445.75 L896.75 444.72 L897.38 443.74 L898 442.8 L898.59 441.92 L899.14 441.1 L899.68 440.32 L900.21 439.57 L900.78 438.84 L901.4 438.1 L902.08 437.36 L902.82 436.63 L903.58 435.92 L904.35 435.22 L905.1 434.55 L905.8 433.9 L906.45 433.26 L907.08 432.62 L907.68 432 L908.28 431.43 L908.88 430.92 L909.5 430.5 L910.15 430.17 L910.81 429.91 L911.49 429.72 L912.15 429.59 L912.79 429.52 L913.4 429.5 L913.97 429.55 L914.51 429.66 L915.02 429.84 L915.53 430.06 L916.02 430.32 L916.5 430.6 L916.94 430.9 L917.32 431.22 L917.69 431.58 L918.09 431.98 L918.58 432.45 L919.2 433 L920 433.68 L920.96 434.5 L921.99 435.39 L923.04 436.26 L924.04 437.06 L924.9 437.7 L925.62 438.18 L926.24 438.56 L926.8 438.85 L927.34 439.09 L927.9 439.3 L928.5 439.5 L929.16 439.69 L929.86 439.84 L930.56 439.96 L931.27 440.05 L931.95 440.13 L932.6 440.2 L933.22 440.26 L933.82 440.29 L934.41 440.31 L934.97 440.32 L935.5 440.31 L936 440.3 L936.44 440.3 L936.82 440.3 L937.17 440.3 L937.53 440.26 L937.93 440.17 L938.4 440 L938.95 439.76 L939.56 439.47 L940.21 439.12 L940.88 438.72 L941.55 438.25 L942.2 437.7 L942.83 437.06 L943.46 436.31 L944.09 435.51 L944.73 434.66 L945.36 433.82 L946 433 L946.6 432.25 L947.16 431.55 L947.71 430.85 L948.32 430.09 L949.03 429.23 L949.9 428.2 L950.95 426.97 L952.16 425.58 L953.46 424.08 L954.82 422.53 L956.18 420.98 L957.5 419.5 L958.82 417.98 L960.2 416.37 L961.59 414.77 L962.92 413.27 L964.14 411.98 L965.2 411 L966.07 410.38 L966.8 410.06 L967.43 409.94 L967.97 409.94 L968.49 409.99 L969 410 L969.49 409.99 L969.94 410.02 L970.34 410.1 L970.73 410.21 L971.11 410.35 L971.5 410.5 L971.87 410.63 L972.19 410.74 L972.51 410.88 L972.86 411.08 L973.27 411.41 L973.8 411.9 L974.44 412.58 L975.18 413.41 L975.98 414.36 L976.83 415.39 L977.71 416.48 L978.6 417.6 L979.53 418.82 L980.54 420.19 L981.58 421.61 L982.59 422.99 L983.55 424.25 L984.4 425.3 L985.12 426.11 L985.74 426.76 L986.31 427.28 L986.84 427.72 L987.4 428.11 L988 428.5 L988.65 428.87 L989.3 429.18 L989.97 429.44 L990.66 429.68 L991.37 429.89 L992.1 430.1 L992.87 430.33 L993.69 430.57 L994.52 430.79 L995.35 430.96 L996.15 431.04 L996.9 431 L997.59 430.81 L998.24 430.49 L998.86 430.08 L999.47 429.62 L1000.08 429.15 L1000.7 428.7 L1001.34 428.24 L1001.98 427.75 L1002.62 427.24 L1003.26 426.74 L1003.88 426.29 L1004.5 425.9 L1005.1 425.59 L1005.7 425.33 L1006.29 425.12 L1006.87 424.93 L1007.44 424.76 L1008 424.6 L1008.5 424.48 L1008.92 424.42 L1009.34 424.38 L1009.81 424.31 L1010.41 424.17 L1011.2 423.9 L1012.22 423.5 L1013.43 423 L1014.77 422.43 L1016.17 421.81 L1017.56 421.16 L1018.9 420.5 L1020.24 419.79 L1021.64 419 L1023.05 418.19 L1024.39 417.4 L1025.59 416.68 L1026.6 416.1 L1027.36 415.67 L1027.93 415.34 L1028.36 415.09 L1028.72 414.89 L1029.08 414.71 L1029.5 414.5 L1029.97 414.27 L1030.44 414.03 L1030.91 413.81 L1031.38 413.62 L1031.84 413.48 L1032.3 413.4 L1032.75 413.4 L1033.19 413.47 L1033.63 413.59 L1034.07 413.73 L1034.53 413.87 L1035 414 L1035.44 414.11 L1035.83 414.23 L1036.24 414.35 L1036.71 414.47 L1037.31 414.59 L1038.1 414.7 L1039.12 414.83 L1040.33 414.97 L1041.67 415.11 L1043.07 415.23 L1044.47 415.3 L1045.8 415.3 L1047.12 415.22 L1048.49 415.06 L1049.86 414.86 L1051.17 414.64 L1052.37 414.41 L1053.4 414.2 L1054.24 414 L1054.91 413.79 L1055.48 413.57 L1055.98 413.36 L1056.47 413.17 L1057 413 L1057.57 412.85 L1058.13 412.71 L1058.68 412.59 L1059.21 412.49 L1059.72 412.42 L1060.2 412.4 L1060.63 412.42 L1061.03 412.49 L1061.39 412.59 L1061.75 412.71 L1062.12 412.85 L1062.5 413 L1062.87 413.14 L1063.2 413.29 L1063.54 413.45 L1063.92 413.64 L1064.4 413.89 L1065 414.2 L1065.75 414.62 L1066.63 415.15 L1067.59 415.73 L1068.61 416.3 L1069.66 416.81 L1070.7 417.2 L1071.76 417.49 L1072.86 417.71 L1073.99 417.88 L1075.13 417.98 L1076.27 418.02 L1077.4 418 L1078.54 417.89 L1079.7 417.68 L1080.87 417.41 L1082.01 417.11 L1083.09 416.83 L1084.1 416.6 L1085.04 416.4 L1085.92 416.19 L1086.76 415.99 L1087.53 415.83 L1088.25 415.73 L1088.9 415.7 L1089.47 415.76 L1089.94 415.89 L1090.36 416.08 L1090.74 416.31 L1091.12 416.55 L1091.5 416.8 L1091.85 417.05 L1092.13 417.31 L1092.4 417.59 L1092.71 417.9 L1093.13 418.23 L1093.7 418.6 L1094.46 419.03 L1095.37 419.54 L1096.38 420.07 L1097.44 420.59 L1098.5 421.05 L1099.5 421.4 L1100.46 421.64 L1101.42 421.81 L1102.38 421.91 L1103.33 421.97 L1104.27 421.99 L1105.2 422 L1106.18 421.96 L1107.22 421.87 L1108.26 421.74 L1109.21 421.6 L1110.02 421.48 L1110.6 421.4" fill="none" stroke="#106ebe" stroke-width="1.35" stroke-linejoin="round"/>
<text class="il" transform="translate(706.4 456.73) scale(0.79 1)" text-anchor="end" font-size="13">20</text>
<text class="il" transform="translate(706.4 419.65) scale(0.79 1)" text-anchor="end" font-size="13">25</text>
<text class="il" transform="translate(709.9 498.2) scale(0.79 1)" text-anchor="middle" font-size="13">0.567</text>
<text class="il" transform="translate(824.39 498.2) scale(0.79 1)" text-anchor="middle" font-size="13">0.569</text>
<text class="il" transform="translate(938.87 498.2) scale(0.79 1)" text-anchor="middle" font-size="13">0.571</text>
<text class="il" transform="translate(1053.36 498.2) scale(0.79 1)" text-anchor="middle" font-size="13">0.573</text>
<line x1="630.0" y1="417.8" x2="694" y2="428.7" stroke="#0a0a28" stroke-width="1.9"/>
<path d="M703.6 430.4 L692.5 426.1 L691.6 431.3 Z" fill="#0a0a28"/>
<line x1="440.9" y1="373.6" x2="469.8" y2="373.6" stroke="#222" stroke-width="1.1"/>
<line x1="440.9" y1="384.5" x2="469.8" y2="384.5" stroke="#222" stroke-width="1.1"/>
<line x1="690.4" y1="373.4" x2="719.7" y2="373.4" stroke="#222" stroke-width="1.1"/>
<line x1="690.4" y1="387.6" x2="719.7" y2="387.6" stroke="#222" stroke-width="1.1"/>
<line x1="455.6" y1="355.3" x2="455.6" y2="363.2" stroke="#000" stroke-width="1.8"/>
<path d="M455.6 373.2 L452.2 363.2 L459 363.2 Z" fill="#000"/>
<line x1="455.6" y1="403.2" x2="455.6" y2="395" stroke="#000" stroke-width="1.8"/>
<path d="M455.6 385 L452.2 395 L459 395 Z" fill="#000"/>
<line x1="705" y1="355.4" x2="705" y2="362" stroke="#000" stroke-width="1.8"/>
<path d="M705 372 L701.6 362 L708.4 362 Z" fill="#000"/>
<line x1="705" y1="406" x2="705" y2="398.2" stroke="#000" stroke-width="1.8"/>
<path d="M705 388.2 L701.6 398.2 L708.4 398.2 Z" fill="#000"/>
<text y="347.9" font-size="22"><tspan x="397.3" font-size="19">Δ</tspan><tspan font-style="italic" x="409.6">v</tspan><tspan font-style="italic" font-size="13" dy="5.3" x="420.3">out</tspan><tspan dy="-3.5" x="443.8">=</tspan><tspan x="461.8" dy="-1.8">0.25</tspan><tspan x="502.3">V</tspan></text>
<text y="343.3" font-size="22"><tspan x="663.3" font-size="19">Δ</tspan><tspan font-style="italic" x="675.3">v</tspan><tspan font-style="italic" font-size="13" dy="5.8" x="686.5">out</tspan><tspan dy="-4" x="709.8">=</tspan><tspan x="728.2" dy="-1.8">0.43V</tspan></text>
<line x1="560.5" y1="654.8" x2="570" y2="654.8" stroke="#000" stroke-width="1.8"/>
<path d="M580.5 654.8 L570 651.2 L570 658.4 Z" fill="#000"/>
<line x1="663" y1="654.8" x2="653.7" y2="654.8" stroke="#000" stroke-width="1.8"/>
<path d="M643.2 654.8 L653.7 651.2 L653.7 658.4 Z" fill="#000"/>
<text y="662.9" font-size="31.5"><tspan x="664.5">Δ</tspan><tspan font-style="italic" dx="-1.5">t</tspan><tspan x="700.5" dy="1.5">=</tspan><tspan x="726" dy="-1.5">0.00340</tspan><tspan font-style="italic" dx="1.3">s</tspan></text>
<text x="606" y="276.3" text-anchor="middle" font-size="31" class="cp">(a)</text>
<text x="606" y="577.7" text-anchor="middle" font-size="31" class="cp">(b)</text>
<text x="606" y="878.6" text-anchor="middle" font-size="31" class="cp">(c)</text>
<text x="607" y="930.3" text-anchor="middle" font-size="35" class="cp">Time <tspan dx="-1.5">(s)</tspan></text>
<text class="yl" transform="translate(32.6 146.5) rotate(-90)" font-size="36"><tspan font-style="italic">i</tspan><tspan font-size="25" dy="5" dx="2.5" stroke="none">2</tspan><tspan font-size="24" dy="-5" dx="6" stroke="none">(A)</tspan></text>
<text class="yl" transform="translate(33.3 447) rotate(-90)" font-size="38"><tspan font-style="italic">v</tspan><tspan font-style="italic" font-size="28.5" dy="4.5">out</tspan><tspan font-size="24" dy="-4.5" dx="3" stroke="none">(V)</tspan></text>
<text class="yl" transform="translate(48.8 738.5) rotate(-90) scale(1.12 1)" font-size="37" font-style="italic">FD</text>

</svg>
</body></html>
